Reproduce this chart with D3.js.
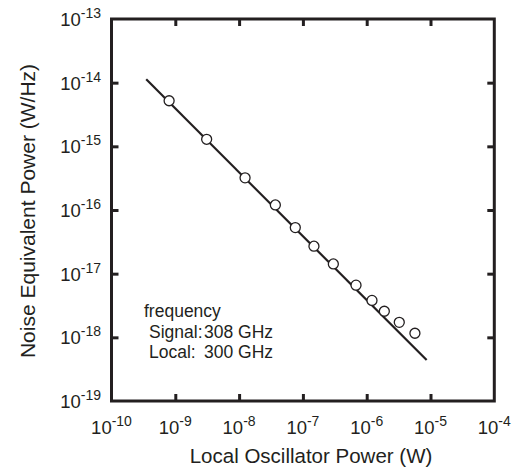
<!DOCTYPE html>
<html>
<head>
<meta charset="utf-8">
<script src="https://cdn.jsdelivr.net/npm/d3@7"></script>
<style>
  body { margin: 0; background: #fff; }
  text { font-family: "Liberation Sans", Arial, Helvetica, sans-serif; fill: #231f20; }
</style>
</head>
<body>
<svg id="chart" width="524" height="467"></svg>
<script>
// measured points (LO power in W, NEP in W/Hz)
var loPower = [8.0e-10, 3.1e-9, 1.24e-8, 3.7e-8, 7.6e-8, 1.49e-7, 3.0e-7, 6.8e-7, 1.21e-6, 1.89e-6, 3.24e-6, 5.7e-6];
var nep     = [5.2e-15, 1.29e-15, 3.2e-16, 1.2e-16, 5.3e-17, 2.7e-17, 1.42e-17, 6.6e-18, 3.8e-18, 2.57e-18, 1.72e-18, 1.16e-18];

// fitted line end points
var fitX = [3.5e-10, 8.7e-6];
var fitY = [1.13e-14, 4.4e-19];

// decade exponents for tick labels
var xExp = [-10, -9, -8, -7, -6, -5, -4];
var yExp = [-19, -18, -17, -16, -15, -14, -13];

var legendLines = ["frequency", "Signal:", "308 GHz", "Local:", "300 GHz"];

var ink = "#231f20";
var margin = {left: 111.5, right: 494.3, top: 19, bottom: 401};

var svg = d3.select("#chart");

var x = d3.scaleLog().domain([1e-10, 1e-4]).range([margin.left, margin.right]);
var y = d3.scaleLog().domain([1e-19, 1e-13]).range([margin.bottom, margin.top]);

var xInner = xExp.slice(1, -1).map(function(e) { return Math.pow(10, e); });
var yInner = yExp.slice(1, -1).map(function(e) { return Math.pow(10, e); });

function styleAxis(g) {
  g.select(".domain").remove();
  g.selectAll(".tick line").attr("stroke", ink).attr("stroke-width", 3);
  g.selectAll(".tick text").remove();
}

svg.append("g").attr("transform", "translate(0," + margin.bottom + ")")
  .call(d3.axisBottom(x).tickValues(xInner).tickSize(-7).tickFormat(""))
  .call(styleAxis);
svg.append("g").attr("transform", "translate(0," + margin.top + ")")
  .call(d3.axisTop(x).tickValues(xInner).tickSize(-7).tickFormat(""))
  .call(styleAxis);
svg.append("g").attr("transform", "translate(" + margin.left + ",0)")
  .call(d3.axisLeft(y).tickValues(yInner).tickSize(-7).tickFormat(""))
  .call(styleAxis);
svg.append("g").attr("transform", "translate(" + margin.right + ",0)")
  .call(d3.axisRight(y).tickValues(yInner).tickSize(-7).tickFormat(""))
  .call(styleAxis);

// frame
svg.append("rect")
  .attr("x", margin.left).attr("y", margin.top)
  .attr("width", margin.right - margin.left)
  .attr("height", margin.bottom - margin.top)
  .attr("fill", "none").attr("stroke", ink).attr("stroke-width", 3);

// tick labels 10^n
function powLabel(sel) {
  sel.append("tspan").attr("font-size", 18.5).text("10");
  sel.append("tspan").attr("font-size", 14).attr("dy", -8).text(function(d) { return "-" + Math.abs(d); });
}

svg.append("g").selectAll("text").data(xExp).join("text")
  .attr("x", function(d) { return x(Math.pow(10, d)); })
  .attr("y", 434)
  .attr("text-anchor", "middle")
  .call(powLabel);

svg.append("g").selectAll("text").data(yExp).join("text")
  .attr("x", 101)
  .attr("y", function(d) { return y(Math.pow(10, d)) + 7; })
  .attr("text-anchor", "end")
  .call(powLabel);

// axis titles
svg.append("text")
  .attr("x", 311).attr("y", 463)
  .attr("text-anchor", "middle")
  .attr("font-size", 20.5)
  .text("Local Oscillator Power (W)");

svg.append("text")
  .attr("transform", "translate(35,211) rotate(-90)")
  .attr("text-anchor", "middle")
  .attr("font-size", 21)
  .text("Noise Equivalent Power (W/Hz)");

// fit line
var line = d3.line().x(function(d) { return x(d[0]); }).y(function(d) { return y(d[1]); });
svg.append("path")
  .datum(d3.zip(fitX, fitY))
  .attr("d", line)
  .attr("fill", "none").attr("stroke", ink).attr("stroke-width", 2.2);

// data markers
svg.append("g").selectAll("circle").data(d3.zip(loPower, nep)).join("circle")
  .attr("cx", function(d) { return x(d[0]); })
  .attr("cy", function(d) { return y(d[1]); })
  .attr("r", 5)
  .attr("fill", "#fff").attr("stroke", ink).attr("stroke-width", 1.3);

// legend text
var leg = svg.append("g").attr("font-size", 17.5);
leg.append("text").attr("x", 144).attr("y", 317).text(legendLines[0]);
leg.append("text").attr("x", 149).attr("y", 338).text(legendLines[1]);
leg.append("text").attr("x", 204).attr("y", 338).text(legendLines[2]);
leg.append("text").attr("x", 149).attr("y", 358).text(legendLines[3]);
leg.append("text").attr("x", 204).attr("y", 358).text(legendLines[4]);
</script>
</body>
</html>
